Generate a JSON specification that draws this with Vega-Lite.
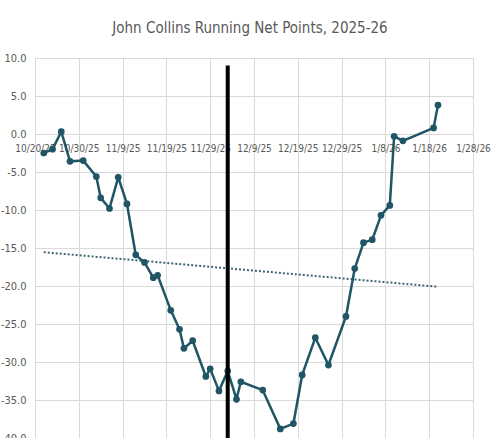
{
  "$schema": "https://vega.github.io/schema/vega-lite/v6.json",
  "autosize": "none",
  "width": 438,
  "height": 380,
  "padding": {"left": 35, "top": 58, "right": 27, "bottom": 0},
  "background": "white",
  "config": {
    "font": "DejaVu Sans Condensed, Roboto, sans-serif",
    "view": {"stroke": null},
    "axis": {"labelFont": "DejaVu Sans Condensed, Roboto, sans-serif", "labelColor": "#595959", "labelFontSize": 11, "gridColor": "#d9d9d9", "gridWidth": 1, "ticks": false, "title": null},
    "axisY": {"values": [-40, -35, -30, -25, -20, -15, -10, -5, 0, 5, 10], "labelExpr": "replace(format(datum.value, '.1f'), '\u2212', '-')", "domain": false, "labelPadding": 9, "labelOverlap": false, "labelFlush": false}
  },
  "title": {"text": "John Collins Running Net Points, 2025-26", "font": "DejaVu Sans Condensed, Roboto, sans-serif", "fontSize": 15, "fontWeight": "normal", "color": "#595959", "offset": 16, "dx": -4},
  "datasets": {
    "pts": [
      {"date": "2025-10-22", "net": -2.5},
      {"date": "2025-10-24", "net": -2.0},
      {"date": "2025-10-26", "net": 0.3},
      {"date": "2025-10-28", "net": -3.6},
      {"date": "2025-10-31", "net": -3.5},
      {"date": "2025-11-03", "net": -5.6},
      {"date": "2025-11-04", "net": -8.4},
      {"date": "2025-11-06", "net": -9.8},
      {"date": "2025-11-08", "net": -5.7},
      {"date": "2025-11-10", "net": -9.2},
      {"date": "2025-11-12", "net": -15.9},
      {"date": "2025-11-14", "net": -16.9},
      {"date": "2025-11-16", "net": -18.9},
      {"date": "2025-11-17", "net": -18.6},
      {"date": "2025-11-20", "net": -23.2},
      {"date": "2025-11-22", "net": -25.7},
      {"date": "2025-11-23", "net": -28.2},
      {"date": "2025-11-25", "net": -27.2},
      {"date": "2025-11-28", "net": -31.9},
      {"date": "2025-11-29", "net": -30.9},
      {"date": "2025-12-01", "net": -33.8},
      {"date": "2025-12-03", "net": -31.2},
      {"date": "2025-12-05", "net": -34.9},
      {"date": "2025-12-06", "net": -32.6},
      {"date": "2025-12-11", "net": -33.7},
      {"date": "2025-12-15", "net": -38.8},
      {"date": "2025-12-18", "net": -38.1},
      {"date": "2025-12-20", "net": -31.7},
      {"date": "2025-12-23", "net": -26.8},
      {"date": "2025-12-26", "net": -30.4},
      {"date": "2025-12-30", "net": -24.0},
      {"date": "2026-01-01", "net": -17.7},
      {"date": "2026-01-03", "net": -14.3},
      {"date": "2026-01-05", "net": -13.9},
      {"date": "2026-01-07", "net": -10.7},
      {"date": "2026-01-09", "net": -9.4},
      {"date": "2026-01-10", "net": -0.3},
      {"date": "2026-01-12", "net": -0.9},
      {"date": "2026-01-19", "net": 0.8},
      {"date": "2026-01-20", "net": 3.8}
    ],
    "trend": [
      {"date": "2025-10-22", "net": -15.55},
      {"date": "2026-01-20", "net": -20.1}
    ],
    "marker": [
      {"date": "2025-12-03", "top": 9.0, "bottom": -42}
    ]
  },
  "layer": [
    {
      "data": {"name": "trend"},
      "mark": {"type": "line", "color": "#3a6670", "strokeWidth": 2, "strokeDash": [2, 2]},
      "encoding": {
        "x": {"field": "date", "type": "temporal", "scale": {"type": "utc", "domain": [{"year": 2025, "month": 10, "date": 20, "utc": true}, {"year": 2026, "month": 1, "date": 28, "utc": true}]},
          "axis": {
            "values": [
              {"year": 2025, "month": 10, "date": 20, "utc": true},
              {"year": 2025, "month": 10, "date": 30, "utc": true},
              {"year": 2025, "month": 11, "date": 9, "utc": true},
              {"year": 2025, "month": 11, "date": 19, "utc": true},
              {"year": 2025, "month": 11, "date": 29, "utc": true},
              {"year": 2025, "month": 12, "date": 9, "utc": true},
              {"year": 2025, "month": 12, "date": 19, "utc": true},
              {"year": 2025, "month": 12, "date": 29, "utc": true},
              {"year": 2026, "month": 1, "date": 8, "utc": true},
              {"year": 2026, "month": 1, "date": 18, "utc": true},
              {"year": 2026, "month": 1, "date": 28, "utc": true}
            ],
            "labelExpr": "utcFormat(datum.value, '%-m/%-d/%y')",
            "labelFontSize": 10,
            "offset": -304,
            "domainColor": "#d9d9d9",
            "domainWidth": 1,
            "labelPadding": 9,
            "labelOverlap": false,
            "labelFlush": false
          }
        },
        "y": {"field": "net", "type": "quantitative", "scale": {"domain": [-40, 10], "nice": false, "zero": false}}
      }
    },
    {
      "data": {"name": "pts"},
      "mark": {"type": "line", "color": "#1f5565", "strokeWidth": 2.5, "point": {"filled": true, "size": 45, "color": "#1f5565"}},
      "encoding": {
        "x": {"field": "date", "type": "temporal"},
        "y": {"field": "net", "type": "quantitative"}
      }
    },
    {
      "data": {"name": "marker"},
      "mark": {"type": "rule", "color": "black", "strokeWidth": 4, "clip": true},
      "encoding": {
        "x": {"field": "date", "type": "temporal"},
        "y": {"field": "top", "type": "quantitative"},
        "y2": {"field": "bottom"}
      }
    }
  ]
}
